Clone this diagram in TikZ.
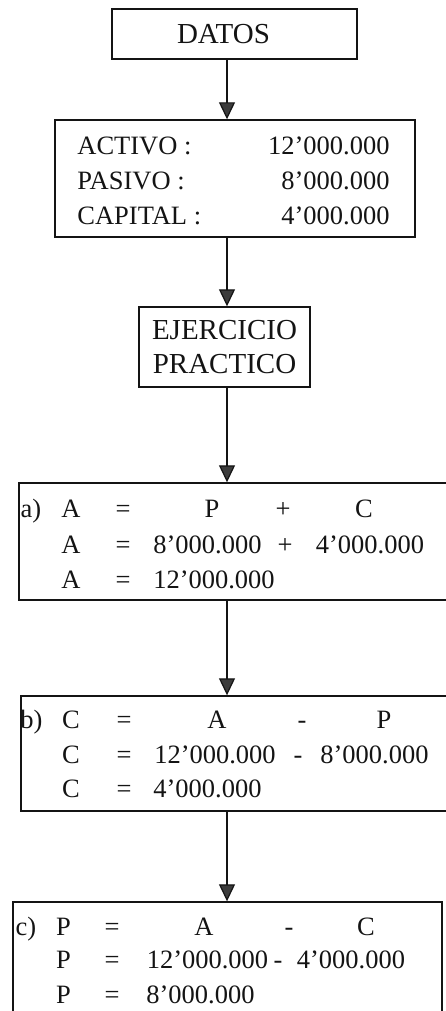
\documentclass[tikz,border=0pt]{standalone}
\usepackage{fontspec}
\setmainfont{Liberation Serif}
\usepackage{tikz}
\usetikzlibrary{
  arrows.meta,
  positioning
}
\definecolor{Tinta}{RGB}{20, 20, 20}
\definecolor{GrisFlecha}{RGB}{60, 60, 60}
\tikzset{
    caja/.style={draw=Tinta, line width=0.7pt, rectangle, inner sep=0pt},
    titulo/.style={font=\fontsize{14.5}{17}\selectfont, text=Tinta, align=center},
    texto/.style={anchor=base, inner sep=0pt, font=\fontsize{13.25}{15}\selectfont, text=Tinta},
    flecha/.style={draw=Tinta, line width=0.6pt, -{Triangle[width=8pt, length=8.5pt, fill=GrisFlecha]}}
}

\begin{document}
\begin{tikzpicture}[x=0.5pt, y=-0.5pt]
    \useasboundingbox (0,0) rectangle (445,1011);
    \coordinate (eje) at (227,0);

    % cajas
    \node[caja, titulo, minimum width=122.5pt, minimum height=25pt] (datos) at (234.5,34) {\hspace*{-11pt}DATOS};
    \node[caja, minimum width=180pt, minimum height=58.5pt] (balance) at (235,178.5) {};
    \node[caja, titulo, minimum width=85.5pt, minimum height=40pt] (ejercicio) at (224.5,347) {EJERCICIO\\PRACTICO};
    \node[caja, minimum width=240.5pt, minimum height=58.5pt] (casoa) at (259.5,541.5) {};
    \node[caja, minimum width=239.5pt, minimum height=57.5pt] (casob) at (260.5,753.5) {};
    \node[caja, minimum width=214.5pt, minimum height=64pt] (casoc) at (227.5,966) {};

    % datos del balance
    \foreach \cuenta/\valor/\y [count=\i] in {ACTIVO :/12’000.000/155, PASIVO :/8’000.000/189, CAPITAL :/4’000.000/224}{
        \node[texto, anchor=base west] (cuenta\i) at (77,\y) {\cuenta};
        \node[texto, anchor=base east] (valor\i) at (390,\y) {\valor};
    }

    % a)
    \foreach \x/\y/\t [count=\i] in {31/517/a), 71/517/A, 123/517/=, 212/517/P, 283/517/+, 364/517/C,
        71/553/A, 123/553/=, 207.5/553/8’000.000, 285/553/+, 370/553/4’000.000,
        71/588/A, 123/588/=, 214/588/12’000.000}
        {\node[texto] (a\i) at (\x,\y) {\t};}

    % b)
    \foreach \x/\y/\t [count=\i] in {31.5/728/b), 71/728/C, 124/728/=, 217/728/A, 302/728/-, 384/728/P,
        71/763/C, 124/763/=, 215/763/12’000.000, 298/763/-, 374.5/763/8’000.000,
        71/797/C, 124/797/=, 207.5/797/4’000.000}
        {\node[texto] (b\i) at (\x,\y) {\t};}

    % c)
    \foreach \x/\y/\t [count=\i] in {26/935/c), 63.5/935/P, 112/935/=, 204/935/A, 289/935/-, 366/935/C,
        63.5/968/P, 112/968/=, 207.5/968/12’000.000, 278/968/-, 351/968/4’000.000,
        63.5/1003/P, 112/1003/=, 200.5/1003/8’000.000}
        {\node[texto] (c\i) at (\x,\y) {\t};}

    % flechas
    \draw[flecha] (datos.south -| eje) -- (balance.north -| eje);
    \draw[flecha] (balance.south -| eje) -- (ejercicio.north -| eje);
    \draw[flecha] (ejercicio.south -| eje) -- (casoa.north -| eje);
    \draw[flecha] (casoa.south -| eje) -- (casob.north -| eje);
    \draw[flecha] (casob.south -| eje) -- (casoc.north -| eje);
\end{tikzpicture}
\end{document}
